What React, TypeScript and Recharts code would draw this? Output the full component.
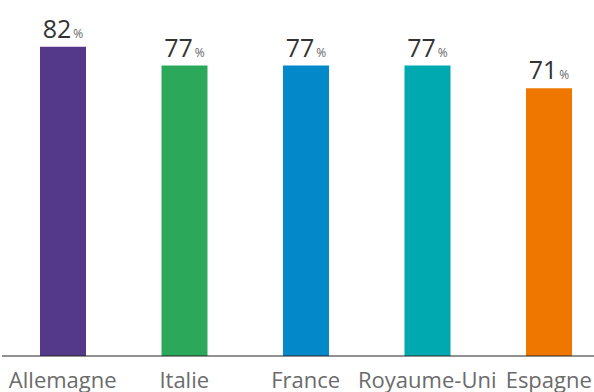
import { BarChart, Bar, XAxis, YAxis, Cell, LabelList } from 'recharts';

const countries = ['Allemagne', 'Italie', 'France', 'Royaume-Uni', 'Espagne'];
const shares = [82, 77, 77, 77, 71];
const barColors = ['#54398b', '#2ca85a', '#0388ca', '#00a9b0', '#ef7700'];

const data = countries.map((name, i) => ({ name, value: shares[i] }));

const FONT = '"Open Sans", sans-serif';

function ValueLabel(props: any) {
  const { x, y, width, value } = props;
  return (
    <text x={x + width / 2} y={y - 9} textAnchor="middle" fontFamily={FONT}>
      <tspan fontSize={25} fill="#333333">
        {value}
      </tspan>
      <tspan fontSize={12} fill="#666666" dx={2}>
        %
      </tspan>
    </text>
  );
}

function CountryTick(props: any) {
  const { x, y, payload } = props;
  return (
    <text x={x} y={y} dy={32} textAnchor="middle" fontFamily={FONT} fontSize={22} fill="#6b6b6b">
      {payload.value}
    </text>
  );
}

export default function App() {
  return (
    <div
      style={{
        position: 'absolute',
        left: 0,
        top: 0,
        width: 594,
        height: 392,
        overflow: 'hidden',
        background: '#fff',
      }}
    >
      <BarChart
        width={612}
        height={392}
        data={data}
        margin={{ top: 16.5, right: 2.5, left: 2, bottom: 0 }}
      >
        <XAxis
          dataKey="name"
          height={36}
          axisLine={{ stroke: '#222222', strokeWidth: 1 }}
          tickLine={false}
          tickSize={0}
          tickMargin={0}
          interval={0}
          tick={<CountryTick />}
        />
        <YAxis hide domain={[0, 90]} />
        <Bar dataKey="value" barSize={46} isAnimationActive={false}>
          {data.map((d, i) => (
            <Cell key={d.name} fill={barColors[i]} />
          ))}
          <LabelList dataKey="value" content={<ValueLabel />} />
        </Bar>
      </BarChart>
    </div>
  );
}
